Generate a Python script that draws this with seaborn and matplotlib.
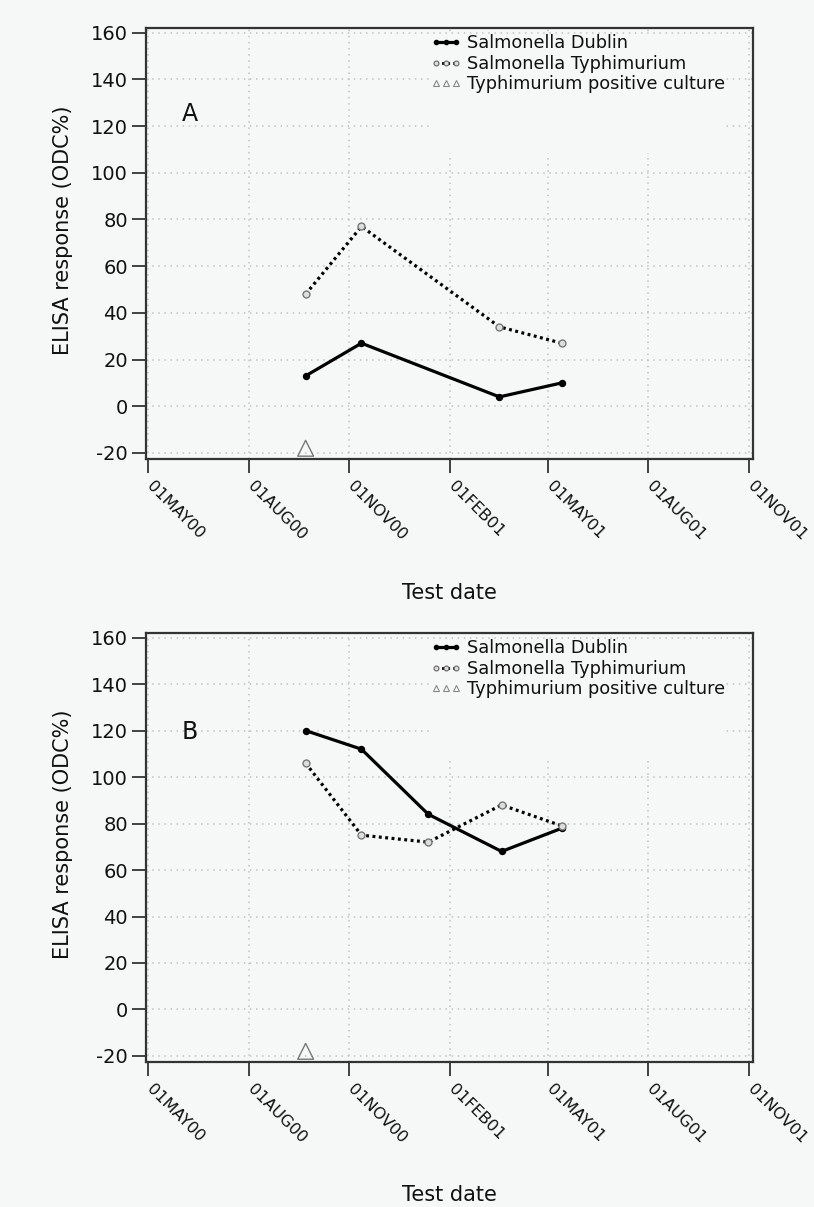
import numpy as np
import pandas as pd
import matplotlib
matplotlib.use("Agg")
import matplotlib.pyplot as plt
import matplotlib.dates as mdates
import matplotlib.transforms as mtransforms
from matplotlib.lines import Line2D
from matplotlib.patches import Rectangle
import seaborn as sns

# ---- data -------------------------------------------------------------
# Panel A
a_dates = ["2000-09-22", "2000-11-12", "2001-03-18", "2001-05-14"]
a_dublin = [13, 27, 4, 10]
a_typhimurium = [48, 77, 34, 27]
a_culture_dates = ["2000-09-22"]
a_culture = [-18]

# Panel B
b_dates = ["2000-09-22", "2000-11-12", "2001-01-12", "2001-03-20", "2001-05-14"]
b_dublin = [120, 112, 84, 68, 78]
b_typhimurium = [106, 75, 72, 88, 79]
b_culture_dates = ["2000-09-22"]
b_culture = [-18]

tick_dates = ["2000-05-01", "2000-08-01", "2000-11-01", "2001-02-01",
              "2001-05-01", "2001-08-01", "2001-11-01"]
tick_labels = ["01MAY00", "01AUG00", "01NOV00", "01FEB01",
               "01MAY01", "01AUG01", "01NOV01"]
y_ticks = [-20, 0, 20, 40, 60, 80, 100, 120, 140, 160]
panel_letters = ["A", "B"]
series_names = ["Salmonella Dublin", "Salmonella Typhimurium",
                "Typhimurium positive culture"]

# ---- style ------------------------------------------------------------
BG = "#f6f8f7"
INK = "#111111"
sns.set_theme(style="white")
plt.rcParams["font.family"] = ["DejaVu Sans"]
plt.rcParams["figure.facecolor"] = BG

fig = plt.figure(figsize=(8.14, 12.07), dpi=100)
W, H = 814, 1207
ax_left, ax_right = 146, 753
frames = [(28, 459), (633, 1062)]

panels = [
    (a_dates, a_dublin, a_typhimurium, a_culture_dates, a_culture),
    (b_dates, b_dublin, b_typhimurium, b_culture_dates, b_culture),
]
letter_y = [0.80, 0.77]

tick_nums = mdates.date2num(pd.to_datetime(tick_dates))
x_lo = tick_nums[0] - 1.8
x_hi = tick_nums[-1] + 3.6

# small leftward nudge for the slanted date labels
nudge = mtransforms.ScaledTranslation(-3 / 72, 0, fig.dpi_scale_trans)

for (top, bottom), (dates, dub, typ, cdates, cvals), letter, ly in zip(
        frames, panels, panel_letters, letter_y):
    ax = fig.add_axes([ax_left / W, 1 - bottom / H,
                       (ax_right - ax_left) / W, (bottom - top) / H])
    ax.set_facecolor(BG)

    df = pd.DataFrame({"date": pd.to_datetime(dates),
                       "dublin": dub, "typhimurium": typ})
    cdf = pd.DataFrame({"date": pd.to_datetime(cdates), "value": cvals})

    sns.lineplot(data=df, x="date", y="dublin", ax=ax, color="black",
                 lw=2.3, marker="o", markersize=4.5,
                 markerfacecolor="black", markeredgecolor="black",
                 markeredgewidth=0.8, zorder=3)
    sns.lineplot(data=df, x="date", y="typhimurium", ax=ax, color="black",
                 lw=2.3, linestyle=(0, (0.9, 1.1)), marker="o", markersize=5,
                 markerfacecolor="#dddddd", markeredgecolor="#777777",
                 markeredgewidth=1.0, zorder=3)
    sns.scatterplot(data=cdf, x="date", y="value", ax=ax, marker="^",
                    s=130, facecolor="none", edgecolor="#777777",
                    linewidth=1.0, zorder=3)

    ax.set_xlim(x_lo, x_hi)
    ax.set_ylim(-22.6, 162)
    ax.set_xticks(tick_nums)
    ax.set_xticklabels(tick_labels)
    ax.set_yticks(y_ticks)
    ax.set_yticklabels([str(v) for v in y_ticks])

    ax.grid(True, color="#c2c2c2", lw=1.1, linestyle=(0, (1, 3)))
    ax.set_axisbelow(True)

    # the legend sits on a plain panel that hides the grid underneath it
    ax.add_patch(Rectangle((0.471, 0.71), 0.483, 0.276,
                           transform=ax.transAxes, facecolor=BG,
                           edgecolor="none", zorder=1))

    for sp in ax.spines.values():
        sp.set_visible(True)
        sp.set_color("#333333")
        sp.set_linewidth(1.6)

    ax.tick_params(axis="both", direction="out", length=10, width=1.3,
                   color="#333333", labelcolor=INK, labelsize=14, pad=3,
                   bottom=True, left=True)
    ax.tick_params(axis="x", labelsize=11.6, pad=4)
    for lab in ax.get_xticklabels():
        lab.set_rotation(-45)
        lab.set_ha("left")
        lab.set_va("top")
        lab.set_transform(lab.get_transform() + nudge)

    ax.set_xlabel("Test date", fontsize=15, color=INK)
    ax.set_ylabel("ELISA response (ODC%)", fontsize=15, color=INK)
    ax.xaxis.set_label_coords(0.5, -0.287)
    ax.yaxis.set_label_coords(-0.12, 0.53)

    ax.text(0.072, ly, letter, transform=ax.transAxes, fontsize=17,
            color=INK, ha="center", va="center")

    handles = [
        Line2D([], [], color="black", lw=2.3, marker="o", markersize=3,
               markerfacecolor="black", markeredgecolor="black"),
        Line2D([], [], color="black", lw=2.0, linestyle=(0, (0.9, 1.1)),
               marker="o", markersize=3.5, markerfacecolor="#dddddd",
               markeredgecolor="#666666", markeredgewidth=0.8),
        Line2D([], [], color="#777777", lw=0, marker="^", markersize=4,
               markerfacecolor="none", markeredgecolor="#888888",
               markeredgewidth=0.8),
    ]
    leg = ax.legend(handles, series_names, loc="upper left",
                    bbox_to_anchor=(0.4695, 0.985), frameon=False,
                    fontsize=12.8, numpoints=3, handlelength=1.7,
                    handletextpad=0.3, labelspacing=0.14, borderpad=0,
                    borderaxespad=0)
    for t in leg.get_texts():
        t.set_color(INK)
    leg.set_zorder(5)

fig.savefig("out.png", dpi=100, facecolor=BG)
